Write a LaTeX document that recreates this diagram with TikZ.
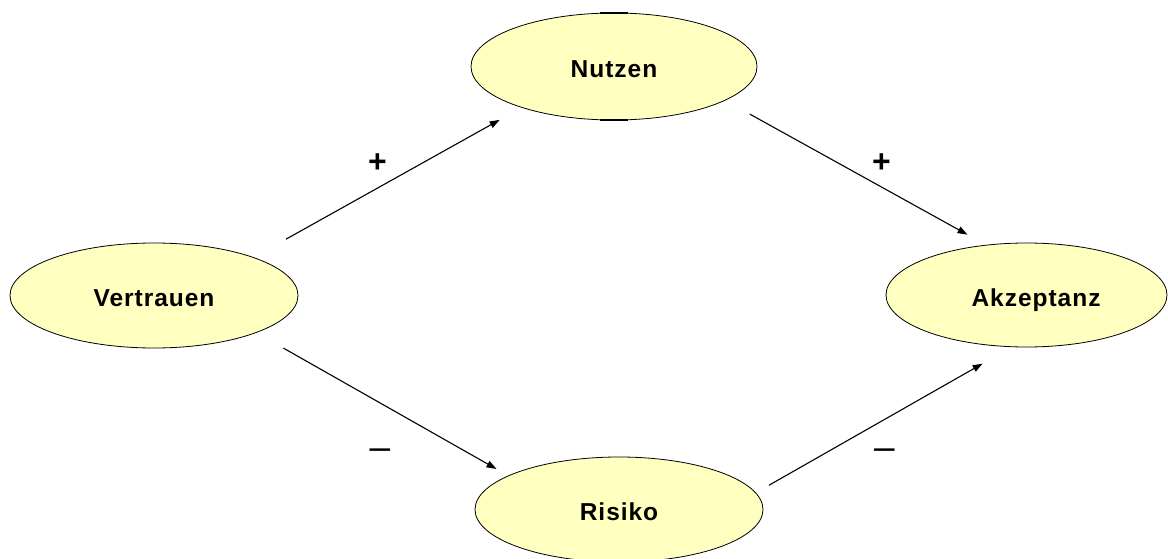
\documentclass[tikz,border=0pt]{standalone}
\usepackage{fontspec}
\setmainfont{Liberation Sans}
\newfontfamily\labelfont[LetterSpace=4]{Liberation Sans}
\usetikzlibrary{shapes.geometric,arrows.meta}
\definecolor{construct}{RGB}{255,255,192}
\begin{document}
\begin{tikzpicture}[x=1pt,y=-1pt,
  construct/.style={ellipse, draw=black, line width=0.8pt, fill=construct,
    inner sep=0pt, text depth=0pt, text height=22.6pt,
    font=\labelfont\bfseries\fontsize{24.5}{28}\selectfont},
  link/.style={line width=1.1pt, -{Triangle[length=10pt,width=7pt]}},
  sign/.style={inner sep=0pt},
  plus/.style={sign, font=\bfseries\fontsize{32}{36}\selectfont},
  minus/.style={sign, font=\fontsize{37}{40}\selectfont}]
\useasboundingbox (0,0) rectangle (1168,559);

% constructs
\node[construct, minimum width=288pt, minimum height=105pt] (V) at (154,295.5) {Vertrauen};
\node[construct, minimum width=286pt, minimum height=107pt] (N) at (614,66.5) {Nutzen};
\node[construct, minimum width=281pt, minimum height=104pt] (A) at (1026.5,295) {\hspace*{19pt}Akzeptanz};
\node[construct, minimum width=288pt, minimum height=105pt] (R) at (619,509.5) {Risiko};

% heavier strokes on top and bottom of the Nutzen outline
\draw[line width=1.8pt] ([xshift=-14pt,yshift=-0.4pt]N.north) -- ([xshift=14pt,yshift=-0.4pt]N.north);
\draw[line width=1.8pt] ([xshift=-14pt,yshift=0.4pt]N.south) -- ([xshift=14pt,yshift=0.4pt]N.south);

% effects
\draw[link, shorten <=37pt, shorten >=25pt] (V.21.4) -- (N.204.8);
\draw[link, shorten <=28pt, shorten >=21pt] (N.343.6) -- (A.129.7);
\draw[link, shorten <=31pt, shorten >=13.4pt] (V.340.1) -- (R.163.7);
\draw[link, shorten <=15pt, shorten >=33.3pt] (R.7.7) -- (A.254.4);

% signs of the effects
\node[plus] (p1) at (377.5,162.8) {+};
\node[plus] (p2) at (881.5,162.8) {+};
\node[minus] (m1) at (380,454.3) {–};
\node[minus] (m2) at (884.5,454.3) {–};
\end{tikzpicture}
\end{document}
